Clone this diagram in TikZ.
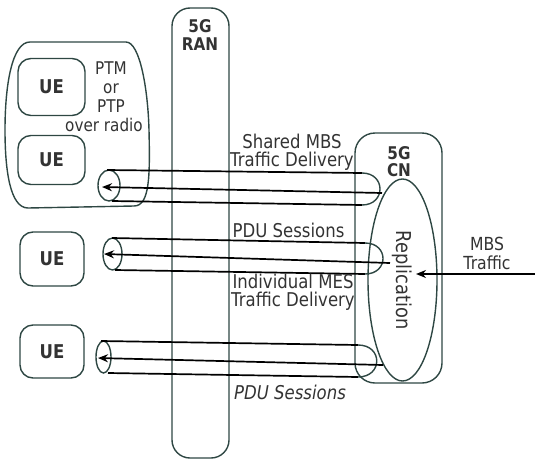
\documentclass[tikz,border=0pt]{standalone}
\usepackage{fontspec}
\setmainfont{DejaVu Sans}[FakeStretch=0.87]
\usetikzlibrary{arrows.meta,shapes.geometric}
\definecolor{edgec}{HTML}{2E4743}
\definecolor{txt}{HTML}{333333}
\begin{document}
\begin{tikzpicture}[x=1pt,y=-1pt,
  outline/.style={draw=edgec, line width=1.4pt},
  roundbox/.style={outline, rounded corners=13pt, inner sep=0pt},
  uebox/.style={roundbox, text=txt, font=\bfseries\fontsize{19}{19}\selectfont},
  lbl/.style={text=txt, font=\fontsize{19}{18}\selectfont, align=center, inner sep=0pt},
  blbl/.style={text=txt, font=\bfseries\fontsize{17.5}{18}\selectfont, align=center, inner sep=0pt},
  pipe/.style={black, line width=1.7pt},
  flow/.style={black, line width=1.7pt, -{Stealth[length=10pt,width=8pt]}},
  capc/.style={outline}]
\useasboundingbox (0,0) rectangle (535,466);
% group around first two UEs
\draw[outline] (30,42) -- (126,42) .. controls (140,42) and (148,90) .. (149,130)
  .. controls (150,175) and (150,206) .. (134,206) -- (28,208)
  .. controls (10,208) and (5,170) .. (5,130) .. controls (5,85) and (12,42) .. (30,42);
% RAN
\node[roundbox, rounded corners=18pt, minimum width=57pt, minimum height=450pt] (ran) at (200.5,233) {};
\node[blbl] (ranlbl) at (200,35.5) {5G\\RAN};
% CN
\node[roundbox, rounded corners=20pt, minimum width=87pt, minimum height=250pt] (cn) at (398.5,258) {};
\node[blbl, font=\bfseries\fontsize{17.5}{17.5}\selectfont] (cnlbl) at (399,161.5) {5G\\CN};
\node[outline, ellipse, rotate=-90, minimum width=202pt, minimum height=69pt, inner sep=0pt,
  text=txt, font=\fontsize{20.5}{20}\selectfont] (repl) at (402.5,280) {Replication};
% UEs
\node[uebox, minimum width=67pt, minimum height=57pt] (ue1) at (51.5,87) {UE};
\node[uebox, minimum width=67pt, minimum height=49pt] (ue2) at (51.5,160) {UE};
\node[uebox, minimum width=64pt, minimum height=54pt] (ue3) at (52,259) {UE};
\node[uebox, minimum width=64pt, minimum height=53pt] (ue4) at (52,351.5) {UE};
\node[lbl, font=\fontsize{17.5}{19.3}\selectfont] (ptm) at (111,87) {PTM\\or\\PTP};
\node[lbl, font=\fontsize{17.5}{19.3}\selectfont] (radio) at (104,125) {over radio};
% tube 1
\node[outline, ellipse, minimum width=22pt, minimum height=31pt, inner sep=0pt] (e1) at (109,185.5) {};
\coordinate (t1a) at (107,170); \coordinate (t1b) at (362,173);
\coordinate (b1a) at (112,201); \coordinate (b1b) at (362,205);
\coordinate (s1) at (382,193); \coordinate (d1) at (102,187);
\draw[pipe] (t1a) -- (t1b);
\draw[pipe] (b1a) -- (b1b);
\draw[capc] (t1b) .. controls (386,173) and (386,205) .. (b1b);
\draw[flow] (s1) -- (d1);
% tube 2
\node[outline, ellipse, minimum width=19pt, minimum height=32pt, inner sep=0pt] (e2) at (112.5,254) {};
\coordinate (t2a) at (112,238); \coordinate (t2b) at (365,243);
\coordinate (b2a) at (115,270); \coordinate (b2b) at (365,274);
\coordinate (s2) at (390,263); \coordinate (d2) at (104,254);
\draw[pipe] (t2a) -- (t2b);
\draw[pipe] (b2a) -- (b2b);
\draw[capc] (t2b) .. controls (389,243) and (389,274) .. (b2b);
\draw[flow] (s2) -- (d2);
% tube 3
\node[outline, ellipse, minimum width=15pt, minimum height=32pt, inner sep=0pt] (e3) at (103.5,357) {};
\coordinate (t3a) at (101,341); \coordinate (t3b) at (358,345);
\coordinate (b3a) at (108,373); \coordinate (b3b) at (358,377);
\coordinate (s3) at (383,365); \coordinate (d3) at (98,358);
\draw[pipe] (t3a) -- (t3b);
\draw[pipe] (b3a) -- (b3b);
\draw[capc] (t3b) .. controls (383,345) and (383,377) .. (b3b);
\draw[flow] (s3) -- (d3);
% MBS traffic
\coordinate (mbsin) at (535,274); \coordinate (mbstip) at (416,274);
\draw[flow] (mbsin) -- (mbstip);
\node[lbl, font=\fontsize{18}{19}\selectfont] (mbs) at (487,253.5) {MBS\\Traffic};
% labels
\node[lbl] (shared) at (292,152) {Shared MBS\\Traffic Delivery};
\node[lbl] (pdu1) at (288.5,230) {PDU Sessions};
\node[lbl] (indiv) at (293,292.5) {Individual MES\\Traffic Delivery};
\node[lbl, font=\itshape\fontsize{19}{18}\selectfont] (pdu2) at (290,392) {PDU Sessions};
\end{tikzpicture}
\end{document}
